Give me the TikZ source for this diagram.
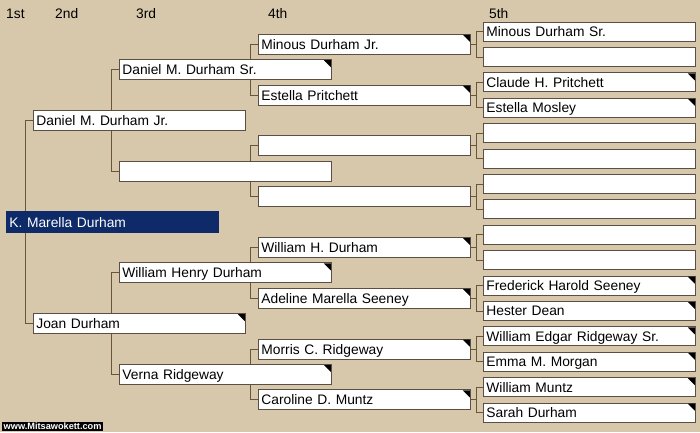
\documentclass[tikz,border=0pt]{standalone}
\usepackage{fontspec}
\setmainfont{Liberation Sans}
\definecolor{bgtan}{HTML}{D8C8AB}
\definecolor{navy}{HTML}{0E2A68}
\definecolor{boxline}{HTML}{5A4F42}
\definecolor{conn}{HTML}{6A5538}
\begin{document}
\begin{tikzpicture}[x=1pt,y=-1pt,
  every node/.style={font=\fontsize{13.8}{15}\selectfont},
  pbox/.style={draw=boxline, line width=0.8pt, fill=white, anchor=west,
    minimum width=212pt, minimum height=20pt, inner xsep=3pt, inner ysep=0pt,
    text width=206pt, align=left, text height=11pt, text depth=1pt},
  gfive/.style={pbox, minimum height=19pt},
  selbox/.style={pbox, fill=navy, draw=navy, text=white, minimum height=21pt},
  hdr/.style={anchor=base west, inner sep=0pt},
  link/.style={draw=conn, line width=0.8pt},
  tri/.style={fill=black}
]
\fill[bgtan] (0,0) rectangle (700,432);
\useasboundingbox (0,0) rectangle (700,432);

% headers
\node[hdr] (h1) at (6,18) {1st};
\node[hdr] (h2) at (55,18) {2nd};
\node[hdr] (h3) at (136,18) {3rd};
\node[hdr] (h4) at (268,18) {4th};
\node[hdr] (h5) at (489,18) {5th};

% gen 5 boxes
\node[gfive] (e0)  at (483, 31.5) {Minous Durham Sr.};
\node[gfive] (e1)  at (483, 56.9) {};
\node[gfive] (e2)  at (483, 82.3) {Claude H. Pritchett};
\node[gfive] (e3)  at (483,107.7) {Estella Mosley};
\node[gfive] (e4)  at (483,133.1) {};
\node[gfive] (e5)  at (483,158.5) {};
\node[gfive] (e6)  at (483,183.9) {};
\node[gfive] (e7)  at (483,209.3) {};
\node[gfive] (e8)  at (483,234.7) {};
\node[gfive] (e9)  at (483,260.1) {};
\node[gfive] (e10) at (483,285.5) {Frederick Harold Seeney};
\node[gfive] (e11) at (483,310.9) {Hester Dean};
\node[gfive] (e12) at (483,336.3) {William Edgar Ridgeway Sr.};
\node[gfive] (e13) at (483,361.7) {Emma M. Morgan};
\node[gfive] (e14) at (483,387.1) {William Muntz};
\node[gfive] (e15) at (483,412.5) {Sarah Durham};

% links gen4 -> gen5
\foreach \p/\a/\b in {0/0/1,1/2/3,2/4/5,3/6/7,4/8/9,5/10/11,6/12/13,7/14/15}{
  \draw[link] ([xshift=-7pt]e\a.west) -- (e\a.west);
  \draw[link] ([xshift=-7pt]e\b.west) -- (e\b.west);
  \draw[link] ([xshift=-7pt]e\a.west) -- ([xshift=-7pt]e\b.west);
}

% gen 4 boxes
\node[pbox] (d0) at (258, 44.2) {Minous Durham Jr.};
\node[pbox] (d1) at (258, 95.0) {Estella Pritchett};
\node[pbox] (d2) at (258,145.8) {};
\node[pbox] (d3) at (258,196.6) {};
\node[pbox] (d4) at (258,247.4) {William H. Durham};
\node[pbox] (d5) at (258,298.2) {Adeline Marella Seeney};
\node[pbox] (d6) at (258,349.0) {Morris C. Ridgeway};
\node[pbox] (d7) at (258,399.8) {Caroline D. Muntz};
\foreach \p/\a in {0/0,1/2,2/4,3/6,4/8,5/10,6/12,7/14}{
  \draw[link] (d\p.east) -- ([xshift=-7pt]e\a.west |- d\p.east);
}

% links gen3 -> gen4
\foreach \a/\b in {0/1,2/3,4/5,6/7}{
  \draw[link] ([xshift=-8pt]d\a.west) -- (d\a.west);
  \draw[link] ([xshift=-8pt]d\b.west) -- (d\b.west);
  \draw[link] ([xshift=-8pt]d\a.west) -- ([xshift=-8pt]d\b.west);
}

% gen 3 boxes
\node[pbox] (c0) at (119, 69.6) {Daniel M. Durham Sr.};
\node[pbox] (c1) at (119,171.2) {};
\node[pbox] (c2) at (119,272.8) {William Henry Durham};
\node[pbox] (c3) at (119,374.4) {Verna Ridgeway};

% links gen2 -> gen3
\foreach \a/\b in {0/1,2/3}{
  \draw[link] ([xshift=-8pt]c\a.west) -- (c\a.west);
  \draw[link] ([xshift=-8pt]c\b.west) -- (c\b.west);
  \draw[link] ([xshift=-8pt]c\a.west) -- ([xshift=-8pt]c\b.west);
}

% gen 2 boxes
\node[pbox] (b0) at (33,120.4) {Daniel M. Durham Jr.};
\node[pbox] (b1) at (33,323.6) {Joan Durham};

% links gen1 -> gen2
\draw[link] ([xshift=-8pt]b0.west) -- (b0.west);
\draw[link] ([xshift=-8pt]b1.west) -- (b1.west);
\draw[link] ([xshift=-8pt]b0.west) -- ([xshift=-8pt]b1.west);

% gen 1
\node[selbox] (a0) at (6,222) {K. Marella Durham};

% corner triangles
\foreach \n in {e2,e3,e10,e11,e12,e13,e14,e15,d0,d1,d4,d5,d6,d7,c0,c2,c3,b1}{
  \fill[tri] ([shift={(-1pt,-1pt)}]\n.north east) -- ++(-7pt,0pt) -- ++(7pt,-7pt) -- cycle;
}

% watermark
\node[fill=black, text=white, anchor=south west, inner xsep=1.5pt, inner ysep=0.8pt,
  font=\fontsize{9.2}{10}\bfseries] (wm) at (2,431) {www.Mitsawokett.com};
\end{tikzpicture}
\end{document}
